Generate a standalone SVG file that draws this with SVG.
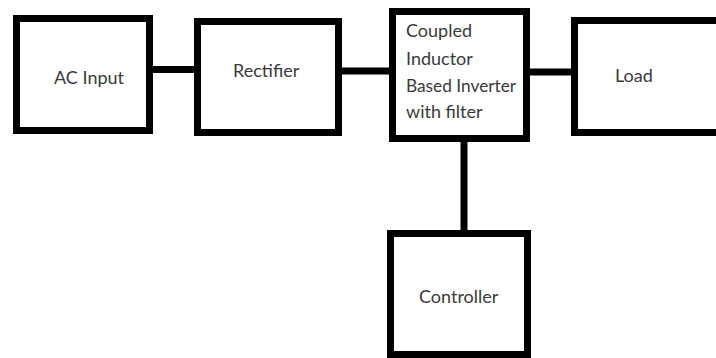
<svg xmlns="http://www.w3.org/2000/svg" width="716" height="358" viewBox="0 0 716 358">
<style>
.box{fill:#fff;stroke:#000;stroke-width:7}
.con{fill:none;stroke:#000;stroke-width:7;stroke-linecap:round}
text{font-family:Lato,"Liberation Sans",Arial,sans-serif;font-size:18px;fill:#3a3a3a}
</style>
<rect width="716" height="358" fill="#fff"/>
<g id="connectors">
<line class="con" x1="152" y1="69.5" x2="199" y2="69.5"/>
<line class="con" x1="341" y1="71" x2="391" y2="71"/>
<line class="con" x1="529" y1="72" x2="576" y2="72"/>
<line class="con" x1="464" y1="141" x2="464" y2="236"/>
</g>
<g id="ac-input">
<rect class="box" x="16.5" y="18.5" width="133" height="112"/>
<text x="54" y="83.5">AC Input</text>
</g>
<g id="rectifier">
<rect class="box" x="197.5" y="21.5" width="141" height="111"/>
<text x="233" y="77">Rectifier</text>
</g>
<g id="inverter">
<rect class="box" x="392.5" y="11.5" width="134" height="127"/>
<text x="406" y="37">Coupled</text>
<text x="406" y="64.5">Inductor</text>
<text x="406" y="91.5" style="font-size:17.3px">Based Inverter</text>
<text x="406" y="118">with filter</text>
</g>
<g id="load">
<path class="box" d="M720 20.5H574.5V132.5H720"/>
<text x="615" y="82">Load</text>
</g>
<g id="controller">
<rect class="box" x="390.5" y="233.5" width="137" height="121"/>
<text x="419" y="303">Controller</text>
</g>
</svg>
